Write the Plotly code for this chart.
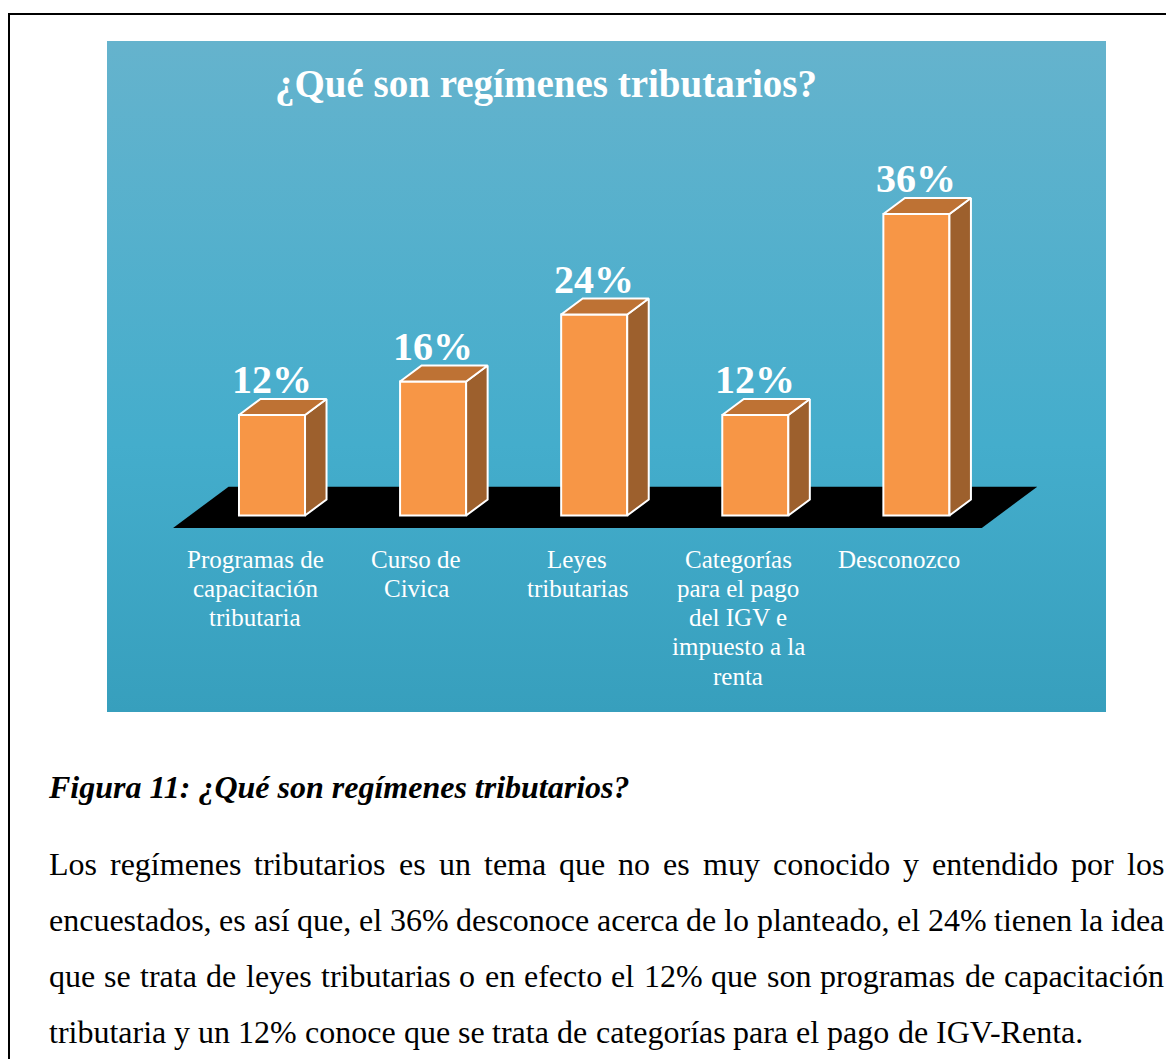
import base64
import plotly.graph_objects as go

# chart data
categories = [
    'Programas de<br>capacitación<br>tributaria',
    'Curso de<br>Civica',
    'Leyes<br>tributarias',
    'Categorías<br>para el pago<br>del IGV e<br>impuesto a la<br>renta',
    'Desconozco',
]
values = [12, 16, 24, 12, 36]
value_labels = ['12%', '16%', '24%', '12%', '36%']

title_text = '¿Qué son regímenes tributarios?'
caption_text = 'Figura 11: ¿Qué son regímenes tributarios?'
paragraph_lines = [
    'Los regímenes tributarios es un tema que no es muy conocido y entendido por los',
    'encuestados, es así que, el 36% desconoce acerca de lo planteado, el 24% tienen la idea',
    'que se trata de leyes tributarias o en efecto el 12% que son programas de capacitación',
    'tributaria y un 12% conoce que se trata de categorías para el pago de IGV-Renta.',
]

W, H = 1174, 1059
OFF = 8  # the page body adds an 8px margin around the figure
SERIF = 'Liberation Serif, Times New Roman, serif'
FRONT = '#F79646'
SIDE = '#9D602D'
TOP = '#BE7234'

BAR_W = 0.41
DX, DY = 0.1335, 1.91  # oblique depth offset (x units, y units)

# approximate Times glyph widths (1/1000 em) used to justify the paragraph
TIMES = {' ': 250, 'a': 444, 'b': 500, 'c': 444, 'd': 500, 'e': 444, 'f': 333,
         'g': 500, 'h': 500, 'i': 278, 'j': 278, 'k': 500, 'l': 278, 'm': 778,
         'n': 500, 'o': 500, 'p': 500, 'q': 500, 'r': 333, 's': 389, 't': 278,
         'u': 500, 'v': 500, 'w': 722, 'x': 500, 'y': 500, 'z': 444, 'á': 444,
         'é': 444, 'í': 278, 'ó': 500, 'ú': 500, 'L': 611, 'I': 333, 'G': 722,
         'V': 722, 'R': 667, '%': 833, ',': 250, '.': 250, '-': 333}


def px(x):
    return (x - OFF) / W


def py(y):
    return 1 - (y - OFF) / H


def text_width(s, size):
    return sum(TIMES.get(ch, 500) for ch in s) * size / 1000


def add_text(fig, text, x, y, size, color='white', **kw):
    fig.add_annotation(text=text, x=x, y=y, showarrow=False, borderpad=0,
                       font={'family': SERIF, 'size': size, 'color': color}, **kw)


fig = go.Figure()

# front faces
fig.add_trace(go.Bar(
    x=list(range(len(values))),
    y=values,
    width=BAR_W,
    marker={'color': FRONT, 'line': {'color': 'white', 'width': 2}},
    hoverinfo='skip',
))

# side and top faces
for i, v in enumerate(values):
    l, r = i - BAR_W / 2, i + BAR_W / 2
    fig.add_trace(go.Scatter(
        x=[r, r + DX, r + DX, r, r], y=[0, DY, v + DY, v, 0],
        mode='lines', fill='toself', fillcolor=SIDE,
        line={'color': 'white', 'width': 2}, hoverinfo='skip',
    ))
    fig.add_trace(go.Scatter(
        x=[l, l + DX, r + DX, r, l], y=[v, v + DY, v + DY, v, v],
        mode='lines', fill='toself', fillcolor=TOP,
        line={'color': 'white', 'width': 2}, hoverinfo='skip',
    ))
    add_text(fig, '<b>' + value_labels[i] + '</b>', i, v + DY, 40,
             xref='x', yref='y', yanchor='bottom', yshift=-4)

# category labels, one line at a time
for i, cat in enumerate(categories):
    for k, line in enumerate(cat.split('<br>')):
        add_text(fig, line, i - 0.105, py(559 + 29.25 * k), 25,
                 xref='x', yref='paper', yanchor='middle')

# black floor under the bars
n = len(values)
d0, d1 = -0.78, 1.8
x_lo, x_hi = -0.51, n - 1 + 0.51
pts = [(x_lo + d0 * DX, d0 * DY), (x_hi + d0 * DX, d0 * DY),
       (x_hi + d1 * DX, d1 * DY), (x_lo + d1 * DX, d1 * DY)]
path = 'M ' + ' L '.join(f'{a},{b}' for a, b in pts) + ' Z'
fig.add_shape(type='path', path=path, xref='x', yref='y', layer='below',
              fillcolor='black', line={'width': 0})

# panel gradient background
svg = ('<svg xmlns="http://www.w3.org/2000/svg" width="100" height="100" '
       'viewBox="0 0 100 100" preserveAspectRatio="none">'
       '<defs><linearGradient id="g" x1="0" y1="0" x2="0" y2="1">'
       '<stop offset="0" stop-color="#65B3CD"/>'
       '<stop offset="0.6" stop-color="#44ADCC"/>'
       '<stop offset="1" stop-color="#379FBD"/>'
       '</linearGradient></defs>'
       '<rect width="100" height="100" fill="url(#g)"/></svg>')
fig.add_layout_image(
    source='data:image/svg+xml;base64,' + base64.b64encode(svg.encode()).decode(),
    xref='paper', yref='paper', x=px(107), y=py(41),
    sizex=px(1106) - px(107), sizey=py(41) - py(712),
    xanchor='left', yanchor='top', sizing='stretch', layer='below',
)

# page border (top and left)
fig.add_shape(type='line', xref='paper', yref='paper', x0=px(9), x1=px(9),
              y0=py(14), y1=py(1080), line={'color': 'black', 'width': 2})
fig.add_shape(type='line', xref='paper', yref='paper', x0=px(8), x1=px(1190),
              y0=py(14), y1=py(14), line={'color': 'black', 'width': 2})

# chart title
add_text(fig, '<b>' + title_text + '</b>', px(545.5), py(84), 39,
         xref='paper', yref='paper', xanchor='center', yanchor='middle')

# caption
add_text(fig, '<b><i>' + caption_text + '</i></b>', px(47), py(787), 32,
         color='black', xref='paper', yref='paper', xanchor='left', yanchor='middle')

# justified paragraph, placed word by word
left, right, size = 48, 1163, 32
for k, line in enumerate(paragraph_lines):
    words = line.split(' ')
    widths = [text_width(w, size) for w in words]
    if k < len(paragraph_lines) - 1:
        gap = (right - left - sum(widths)) / (len(words) - 1)
    else:
        gap = text_width(' ', size)
    x = left
    for w, wd in zip(words, widths):
        add_text(fig, w, px(x), py(864 + 56 * k), size, color='black',
                 xref='paper', yref='paper', xanchor='left', yanchor='middle')
        x += wd + gap

fig.update_layout(
    width=W,
    height=H,
    margin={'l': 0, 'r': 0, 't': 0, 'b': 0},
    paper_bgcolor='white',
    plot_bgcolor='rgba(0,0,0,0)',
    showlegend=False,
    xaxis={'range': [-1.5, 5.5], 'domain': [px(30.35), px(1158.05)],
           'visible': False, 'fixedrange': True},
    yaxis={'range': [-6, 50], 'domain': [py(565.75), py(96.75)],
           'visible': False, 'fixedrange': True},
)

fig.write_html('out.html')
